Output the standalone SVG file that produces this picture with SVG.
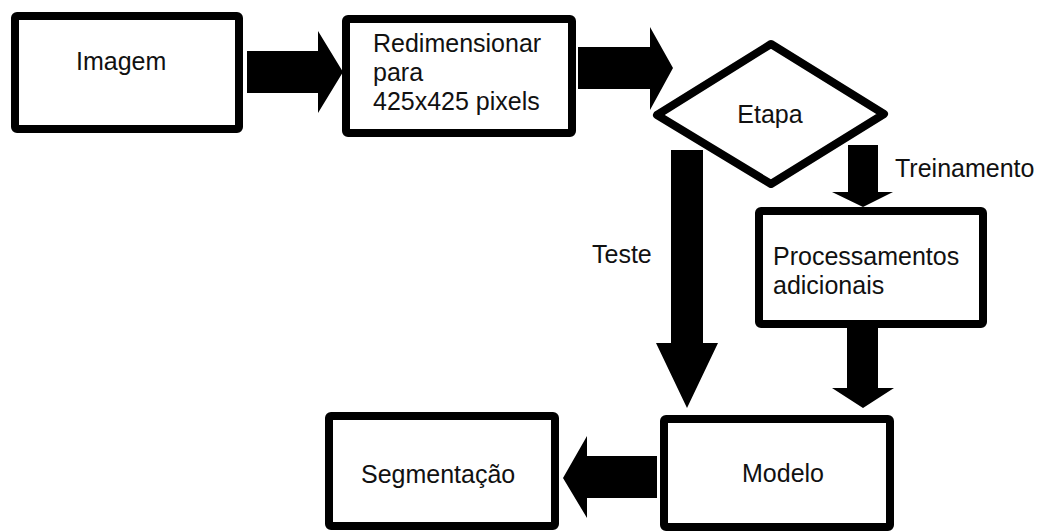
<svg xmlns="http://www.w3.org/2000/svg" width="1038" height="531" viewBox="0 0 1038 531">
<style>
.box{fill:#fff;stroke:#000;stroke-width:8;stroke-linejoin:round}
.lbl{font-family:"Liberation Sans",Arial,sans-serif;font-size:25px;fill:#111}
.arr{fill:#000;stroke:none}
</style>
<rect width="1038" height="531" fill="#fff"/>
<g id="connectors">
<polygon class="arr" points="247,51 318,51 318,31 343,72 318,113 318,93 247,93"/>
<polygon class="arr" points="578,47 650,47 650,27 673,68 650,110 650,89 578,89"/>
<polygon class="arr" points="671,150 703,150 703,343 718,343 687,408 656,343 671,343"/>
<polygon class="arr" points="848,145 878,145 878,192 893,192 863,207 832,192 848,192"/>
<polygon class="arr" points="847,328 878,328 878,388 894,388 863,408 832,388 847,388"/>
<polygon class="arr" points="657,456 657,498 587,498 587,518 563,478 587,436 587,456"/>
<text class="lbl" x="895" y="177">Treinamento</text>
<text class="lbl" x="592" y="263">Teste</text>
</g>
<g id="imagem">
<rect class="box" x="15" y="16" width="224" height="113" rx="2"/>
<text class="lbl" x="76" y="70">Imagem</text>
</g>
<g id="redimensionar">
<rect class="box" x="346" y="19" width="226" height="114" rx="2"/>
<text class="lbl" x="373" y="52">Redimensionar</text>
<text class="lbl" x="373" y="81">para</text>
<text class="lbl" x="373" y="110">425x425 pixels</text>
</g>
<g id="etapa">
<polygon class="box" points="771,44 884,114 771,184 657,115"/>
<text class="lbl" x="770" y="123" text-anchor="middle">Etapa</text>
</g>
<g id="processamentos">
<rect class="box" x="759" y="211" width="224" height="113" rx="2"/>
<text class="lbl" x="773" y="265">Processamentos</text>
<text class="lbl" x="773" y="294">adicionais</text>
</g>
<g id="modelo">
<rect class="box" x="664" y="419" width="226" height="108" rx="2"/>
<text class="lbl" x="742" y="482">Modelo</text>
</g>
<g id="segmentacao">
<rect class="box" x="329" y="416" width="226" height="110" rx="2"/>
<text class="lbl" x="361" y="483">Segmentação</text>
</g>
</svg>
